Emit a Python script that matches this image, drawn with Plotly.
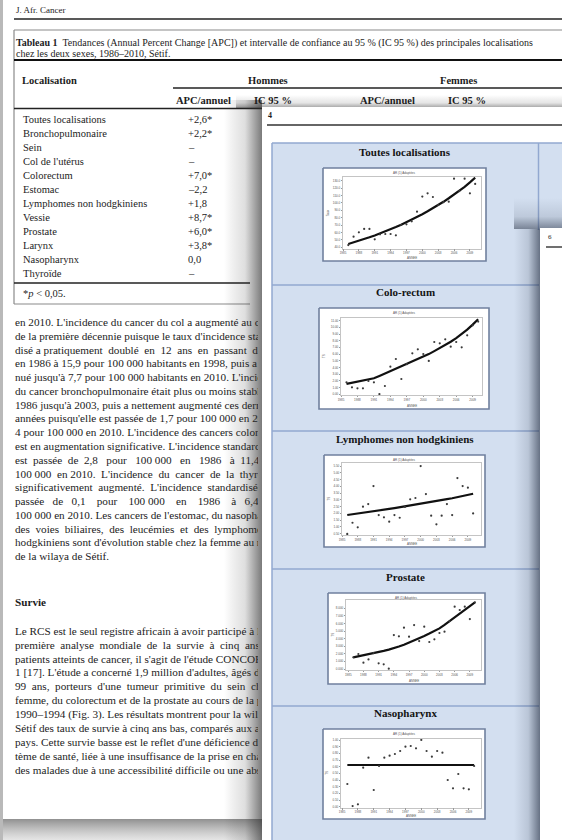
import plotly.graph_objects as go

W, H = 562, 840
SERIF = "Liberation Serif"

# ---------------- data ----------------
years = list(range(1986, 2011))
xticks = [1985, 1988, 1991, 1994, 1997, 2000, 2003, 2006, 2009]

tl_obs = [43.0, 54.4, 60.3, 64.8, 64.8, 50.8, 57.6, 58.0, 58.0, 56.2, 70.2, 71.1, 75.1,
          88.2, 108.5, 113.0, 108.0, 97.2, 101.0, 101.7, 132.8, 116.0, 132.8, 113.0, 125.6]
tl_fit = [44.5, 46.5, 48.7, 51.0, 53.5, 56.0, 58.6, 61.4, 64.3, 67.4, 70.6, 73.9, 77.4,
          81.0, 84.8, 88.7, 92.7, 97.0, 101.5, 106.3, 111.2, 116.3, 121.6, 127.7, 134.1]
tl_ticks = [40, 50, 60, 70, 80, 90, 100, 110, 120, 130]

cr_obs = [1.79, 1.04, 0.90, 0.90, 1.99, 1.79, 0.05, 1.24, 4.13, 5.27, 2.29, 4.50, 6.12,
          6.72, 6.02, 4.98, 7.81, 7.61, 8.21, 7.11, 7.81, 7.01, 8.81, 10.30, 10.85]
cr_fit = [1.55, 1.70, 1.85, 2.00, 2.20, 2.40, 2.75, 3.10, 3.45, 3.85, 4.15, 4.50, 4.85,
          5.25, 5.60, 6.00, 6.45, 6.90, 7.35, 7.85, 8.40, 9.00, 9.65, 10.40, 11.20]
cr_ticks = [0, 1, 2, 3, 4, 5, 6, 7, 8, 9, 10, 11]

ly_obs = [0.48, 1.31, 0.97, 2.50, 2.69, 4.02, 1.88, 1.71, 1.39, 1.88, 1.68, 2.48, 3.04,
          3.14, 5.50, 3.43, 1.83, 1.19, 1.83, 2.69, 1.88, 4.61, 4.02, 3.90, 2.00]
ly_fit = [1.88, 1.93, 1.99, 2.04, 2.10, 2.16, 2.21, 2.27, 2.33, 2.39, 2.45, 2.51, 2.57,
          2.64, 2.70, 2.77, 2.84, 2.91, 2.98, 3.05, 3.12, 3.20, 3.27, 3.36, 3.45]
ly_ticks = [0.5, 1.0, 1.5, 2.0, 2.5, 3.0, 3.5, 4.0, 4.5, 5.0, 5.5]

pr_obs = [1.54, 1.98, 0.84, 1.27, 2.10, 0.75, 0.62, 0.05, 4.48, 4.31, 5.45, 4.26, 5.80,
          3.69, 5.58, 3.56, 3.91, 4.75, 4.92, 6.30, 8.22, 7.78, 8.22, 6.59, 8.79]
pr_fit = [1.54, 1.67, 1.81, 1.95, 2.10, 2.25, 2.40, 2.56, 2.73, 2.96, 3.21, 3.48, 3.76,
          4.05, 4.35, 4.67, 5.01, 5.36, 5.82, 6.30, 6.81, 7.29, 7.78, 8.28, 8.79]
pr_ticks = [0, 1, 2, 3, 4, 5, 6, 7, 8]

np_obs = [0.34, 0.01, 0.035, 0.585, 0.735, 0.25, 0.61, 0.735, 0.765, 0.79, 0.835, 0.90, 0.91,
          0.875, 1.00, 0.835, 0.75, 0.835, 0.81, 0.40, 0.275, 0.49, 0.275, 0.26, 0.61]
np_fit = [0.625, 0.625, 0.625, 0.625, 0.625, 0.625, 0.625, 0.625, 0.625, 0.625, 0.625, 0.625, 0.625,
          0.625, 0.625, 0.625, 0.625, 0.625, 0.625, 0.625, 0.625, 0.625, 0.625, 0.625, 0.625]
np_ticks = [0.0, 0.1, 0.2, 0.3, 0.4, 0.5, 0.6, 0.7, 0.8, 0.9, 1.0]

table_sites = ["Toutes localisations", "Bronchopulmonaire", "Sein", "Col de l'utérus",
               "Colorectum", "Estomac", "Lymphomes non hodgkiniens", "Vessie", "Prostate",
               "Larynx", "Nasopharynx", "Thyroïde"]
table_apc_h = ["+2,6*", "+2,2*", "–", "–", "+7,0*", "–2,2", "+1,8", "+8,7*", "+6,0*",
               "+3,8*", "0,0", "–"]

para1 = [
    "en 2010. L'incidence du cancer du col a augmenté au cours",
    "de la première décennie puisque le taux d'incidence standar-",
    "disé a pratiquement\u00a0 doublé\u00a0 en\u00a0 12\u00a0 ans\u00a0 en\u00a0 passant\u00a0 de 8,1",
    "en 1986 à 15,9 pour 100 000 habitants en 1998, puis a dimi-",
    "nué jusqu'à 7,7 pour 100 000 habitants en 2010. L'incidence",
    "du cancer bronchopulmonaire était plus ou moins stable de",
    "1986 jusqu'à 2003, puis a nettement augmenté ces dernières",
    "années puisqu'elle est passée de 1,7 pour 100 000 en 2003 à",
    "4 pour 100 000 en 2010. L'incidence des cancers colorectaux",
    "est en augmentation significative. L'incidence standardisée",
    "est\u00a0 passée\u00a0 de\u00a0 2,8\u00a0\u00a0 pour\u00a0\u00a0 100 000\u00a0\u00a0 en\u00a0\u00a0 1986\u00a0\u00a0 à\u00a0 11,4\u00a0 pour",
    "100 000\u00a0 en 2010.\u00a0 L'incidence\u00a0 du\u00a0 cancer\u00a0 de\u00a0 la\u00a0 thyroïde a",
    "significativement\u00a0 augmenté.\u00a0 L'incidence\u00a0 standardisée est",
    "passée\u00a0\u00a0 de\u00a0\u00a0 0,1\u00a0\u00a0\u00a0 pour\u00a0\u00a0\u00a0 100 000\u00a0\u00a0\u00a0 en\u00a0\u00a0\u00a0 1986\u00a0\u00a0\u00a0 à\u00a0\u00a0 6,4 pour",
    "100 000 en 2010. Les cancers de l'estomac, du nasopharynx,",
    "des\u00a0 voies\u00a0 biliaires,\u00a0 des\u00a0 leucémies\u00a0 et\u00a0 des\u00a0 lymphomes non",
    "hodgkiniens sont d'évolution stable chez la femme au niveau",
    "de la wilaya de Sétif.",
]
para2 = [
    "Le RCS est le seul registre africain à avoir participé à la",
    "première\u00a0 analyse\u00a0 mondiale\u00a0 de\u00a0 la\u00a0 survie\u00a0 à\u00a0 cinq\u00a0 ans des",
    "patients atteints de cancer, il s'agit de l'étude CONCORD-",
    "1 [17]. L'étude a concerné 1,9 million d'adultes, âgés de 15",
    "99\u00a0 ans,\u00a0 porteurs\u00a0 d'une\u00a0 tumeur\u00a0 primitive\u00a0 du\u00a0 sein\u00a0 chez la",
    "femme, du colorectum et de la prostate au cours de la période",
    "1990–1994 (Fig. 3). Les résultats montrent pour la wilaya de",
    "Sétif des taux de survie à cinq ans bas, comparés aux autres",
    "pays. Cette survie basse est le reflet d'une déficience du sys-",
    "tème de santé, liée à une insuffisance de la prise en charge",
    "des malades due à une accessibilité difficile ou une absence",
]

# ---------------- helpers ----------------
def segs(lines, color, width, xa="x", ya="y"):
    xs, ys = [], []
    for x0, y0, x1, y1 in lines:
        xs += [x0, x1, None]
        ys += [y0, y1, None]
    return go.Scatter(x=xs, y=ys, mode="lines", line=dict(color=color, width=width),
                      xaxis=xa, yaxis=ya, hoverinfo="skip", showlegend=False)

def rect(x0, y0, x1, y1, fill=None, xa="x", ya="y", grad=None, border=None, bw=0):
    kw = dict(x=[x0, x1, x1, x0, x0], y=[y0, y0, y1, y1, y0], fill="toself",
              xaxis=xa, yaxis=ya, hoverinfo="skip", showlegend=False)
    if border:
        kw.update(mode="lines", line=dict(color=border, width=bw))
    else:
        kw.update(mode="none")
    if grad:
        kw["fillgradient"] = grad
    else:
        kw["fillcolor"] = fill
    return go.Scatter(**kw)

def ann(x, y, text, size, anchor="left", color="#1c1c1c", xref="x", yref="y", angle=0, family=SERIF):
    return dict(x=x, y=y, xref=xref, yref=yref, text=text, showarrow=False,
                xanchor=anchor, yanchor="middle", textangle=angle,
                font=dict(family=family, size=size, color=color))

fig = go.Figure()
annotations = []

# ---------------- background page (subplot xy) ----------------
fig.add_trace(rect(0, 0, 3, H, "#b9b9b9"))
fig.add_trace(rect(3, 819, 262, 840, grad=dict(type="vertical", start=819, stop=840,
              colorscale=[[0, "rgba(70,70,70,0.6)"], [1, "rgba(150,150,150,0.25)"]])))
fig.add_trace(segs([(14, 19, W, 19)], "#222", 1.6))
fig.add_trace(segs([(14, 30, W, 30), (14, 30, 14, 304), (14, 304, 250, 304)], "#8a8a8a", 1.2))
fig.add_trace(segs([(14, 60, W, 60)], "#111", 2.0))
fig.add_trace(segs([(173, 88, W, 88), (14, 108.5, W, 108.5), (14, 283, 250, 283)], "#222", 1.3))

annotations.append(ann(14, 10, "J. Afr. Cancer", 9))
annotations.append(ann(14, 43, "<b>Tableau 1</b>  Tendances (Annual Percent Change [APC]) et intervalle "
                       "de confiance au 95 % (IC 95 %) des principales localisations", 10))
annotations.append(ann(14, 53, "chez les deux sexes, 1986–2010, Sétif.", 10))
annotations.append(ann(20, 80, "<b>Localisation</b>", 10.5))
annotations.append(ann(268, 80, "<b>Hommes</b>", 10.5, "center"))
annotations.append(ann(458, 80, "<b>Femmes</b>", 10.5, "center"))
for xh, tx in [(203, "APC/annuel"), (273, "IC 95 %"), (387, "APC/annuel"), (467, "IC 95 %")]:
    annotations.append(ann(xh, 100, "<b>" + tx + "</b>", 10.5, "center"))
row_y0, row_dy = 119, 14
for i, (site, apc) in enumerate(zip(table_sites, table_apc_h)):
    annotations.append(ann(21, row_y0 + i * row_dy, site, 10.5))
    annotations.append(ann(186, row_y0 + i * row_dy, apc, 10.5))
annotations.append(ann(21, 293, "*<i>p</i> < 0,05.", 10.5))

# ---------------- clipped paragraph text (subplot x2y2) ----------------
p1_y0, p1_dy = 323.3, 13.77
p2_y0, p2_dy = 632.0, 13.9
fig.add_trace(go.Scatter(
    x=[15] * len(para1), y=[p1_y0 + i * p1_dy for i in range(len(para1))], text=para1,
    mode="text", textposition="middle right", cliponaxis=True,
    textfont=dict(family=SERIF, size=11.2, color="#1c1c1c"),
    xaxis="x2", yaxis="y2", hoverinfo="skip", showlegend=False))
fig.add_trace(go.Scatter(
    x=[15] * len(para2), y=[p2_y0 + i * p2_dy for i in range(len(para2))], text=para2,
    mode="text", textposition="middle right", cliponaxis=True,
    textfont=dict(family=SERIF, size=11.2, color="#1c1c1c"),
    xaxis="x2", yaxis="y2", hoverinfo="skip", showlegend=False))
fig.add_trace(go.Scatter(
    x=[15], y=[603], text=["<b>Survie</b>"], mode="text", textposition="middle right",
    cliponaxis=True, textfont=dict(family=SERIF, size=11.2, color="#1c1c1c"),
    xaxis="x2", yaxis="y2", hoverinfo="skip", showlegend=False))

# ---------------- front page (subplot x3y3) ----------------
X3, Y3 = "x3", "y3"
fig.add_trace(rect(236, 95, W, 108, xa=X3, ya=Y3, grad=dict(type="vertical", start=95, stop=108,
              colorscale=[[0, "rgba(0,0,0,0)"], [0.6, "rgba(40,40,40,0.12)"], [1, "rgba(40,40,40,0.45)"]])))
fig.add_trace(rect(224, 100, 262, H, xa=X3, ya=Y3, grad=dict(type="horizontal", start=224, stop=262,
              colorscale=[[0, "rgba(0,0,0,0)"], [0.55, "rgba(40,40,40,0.15)"], [1, "rgba(40,40,40,0.62)"]])))
fig.add_trace(rect(262, 107, W, H, "#ffffff", xa=X3, ya=Y3))
fig.add_trace(segs([(267, 125, W, 125)], "#333", 1.6, X3, Y3))
annotations.append(ann(266, 115, "<b>4</b>", 8, xref=X3, yref=Y3))

BLUE = "rgb(211,223,240)"
SEP = "rgb(146,168,208)"
fig.add_trace(rect(272, 143, W, H, BLUE, xa=X3, ya=Y3))
fig.add_trace(segs([(272, 143, W, 143), (272, 285, 539, 285), (272, 431, 539, 431),
                    (272, 569, 539, 569), (272, 706, 539, 706),
                    (272, 143, 272, H), (538.5, 143, 538.5, 230)], SEP, 1.5, X3, Y3))

panels = [
    dict(title="Toutes localisations", ty=152, obs=tl_obs, fit=tl_fit, ticks=tl_ticks, fmt=".1f",
         ylab="Taux", box=(323, 168, 486, 261), dx=(343, 481), dy=(177, 248.5),
         xr=(1985, 2011.1), yr=(38.4, 135.0)),
    dict(title="Colo-rectum", ty=292, obs=cr_obs, fit=cr_fit, ticks=cr_ticks, fmt=".2f",
         ylab="TS", box=(319, 308, 489, 409), dx=(341, 482), dy=(318, 395),
         xr=(1985, 2010.7), yr=(-0.10, 11.39)),
    dict(title="Lymphomes non hodgkiniens", ty=439, obs=ly_obs, fit=ly_fit, ticks=ly_ticks, fmt=".2f",
         ylab="TS", box=(324, 455, 485, 547), dx=(342, 481), dy=(463, 535),
         xr=(1985, 2011.5), yr=(0.404, 5.725)),
    dict(title="Prostate", ty=577, obs=pr_obs, fit=pr_fit, ticks=pr_ticks, fmt=".3f",
         ylab="TS", box=(328, 593, 485, 684), dx=(346, 481), dy=(600, 670),
         xr=(1984.56, 2011.2), yr=(-0.13, 9.10)),
    dict(title="Nasopharynx", ty=713, obs=np_obs, fit=np_fit, ticks=np_ticks, fmt=".2f",
         ylab="TS", box=(323, 729, 485, 819), dx=(341, 481), dy=(739, 807.5),
         xr=(1984.8, 2011.3), yr=(-0.012, 1.015)),
]

for p in panels:
    bx0, by0, bx1, by1 = p["box"]
    fig.add_trace(rect(bx0, by0, bx1, by1, "#ffffff", xa=X3, ya=Y3, border="rgb(112,128,158)", bw=1.6))
    annotations.append(ann(405, p["ty"], "<b>" + p["title"] + "</b>", 11, "center", "#141414", X3, Y3))
    annotations.append(ann((bx0 + bx1) / 2, by0 + 5, "AR (1) Adaptées", 3, "center", "#555", X3, Y3,
                           family="Liberation Sans"))
    annotations.append(ann((p["dx"][0] + p["dx"][1]) / 2, by1 - 3.2, "ANNEE", 3, "center", "#555",
                           X3, Y3, family="Liberation Sans"))
    annotations.append(ann(bx0 + 4.5, (p["dy"][0] + p["dy"][1]) / 2, p["ylab"], 3, "center", "#555",
                           X3, Y3, angle=-90, family="Liberation Sans"))

# page 6 overlay with its shadow
fig.add_trace(rect(514, 198, W, 229, xa=X3, ya=Y3, grad=dict(type="vertical", start=198, stop=229,
              colorscale=[[0, "rgba(30,40,60,0)"], [0.6, "rgba(30,40,60,0.12)"], [1, "rgba(30,40,60,0.5)"]])))
fig.add_trace(rect(514, 229, 540, H, xa=X3, ya=Y3, grad=dict(type="horizontal", start=514, stop=540,
              colorscale=[[0, "rgba(30,40,60,0)"], [0.55, "rgba(30,40,60,0.14)"], [1, "rgba(30,40,60,0.6)"]])))
fig.add_trace(rect(540, 228, W, H, "#ffffff", xa=X3, ya=Y3))
fig.add_trace(segs([(546, 247, W, 247)], "#333", 1.4, X3, Y3))
annotations.append(ann(546, 237, "6", 7, xref=X3, yref=Y3))

# ---------------- axes ----------------
hidden = dict(visible=False, fixedrange=True, automargin=False)
layout_axes = {
    "xaxis": dict(domain=[0, 1], range=[0, W], **hidden),
    "yaxis": dict(domain=[0, 1], range=[H, 0], **hidden),
    "xaxis2": dict(domain=[0, 258 / W], range=[0, 258], anchor="y2", **hidden),
    "yaxis2": dict(domain=[0, 1], range=[H, 0], anchor="x2", **hidden),
    "xaxis3": dict(domain=[0, 1], range=[0, W], anchor="y3", **hidden),
    "yaxis3": dict(domain=[0, 1], range=[H, 0], anchor="x3", **hidden),
}

for k, p in enumerate(panels):
    n = k + 4
    xa, ya = f"x{n}", f"y{n}"
    fig.add_trace(go.Scatter(x=years, y=p["fit"], mode="lines", line=dict(color="#111", width=2.2),
                             xaxis=xa, yaxis=ya, hoverinfo="skip", showlegend=False))
    fig.add_trace(go.Scatter(x=years, y=p["obs"], mode="markers",
                             marker=dict(size=2.2, color="#3a3a3a"),
                             xaxis=xa, yaxis=ya, hoverinfo="skip", showlegend=False))
    common = dict(showgrid=False, zeroline=False, showline=True, mirror=True,
                  linecolor="#c4c4c4", linewidth=0.8, ticks="outside", ticklen=1.2,
                  tickcolor="#999", tickwidth=0.5, automargin=False, fixedrange=True,
                  tickfont=dict(size=3, color="#555", family="Liberation Sans"))
    layout_axes[f"xaxis{n}"] = dict(
        domain=[p["dx"][0] / W, p["dx"][1] / W], range=list(p["xr"]), anchor=ya,
        tickvals=xticks, **common)
    layout_axes[f"yaxis{n}"] = dict(
        domain=[1 - p["dy"][1] / H, 1 - p["dy"][0] / H], range=list(p["yr"]), anchor=xa,
        tickvals=p["ticks"], tickformat=p["fmt"], **common)

fig.update_layout(
    width=W, height=H, margin=dict(l=0, r=0, t=0, b=0, pad=0, autoexpand=False),
    paper_bgcolor="#ffffff", plot_bgcolor="rgba(0,0,0,0)",
    showlegend=False, annotations=annotations, **layout_axes)

fig.write_html(
    "out.html",
    config=dict(displayModeBar=False),
    post_script="document.body.style.margin='0';document.body.style.padding='0';"
                "document.documentElement.style.overflow='hidden';",
)
